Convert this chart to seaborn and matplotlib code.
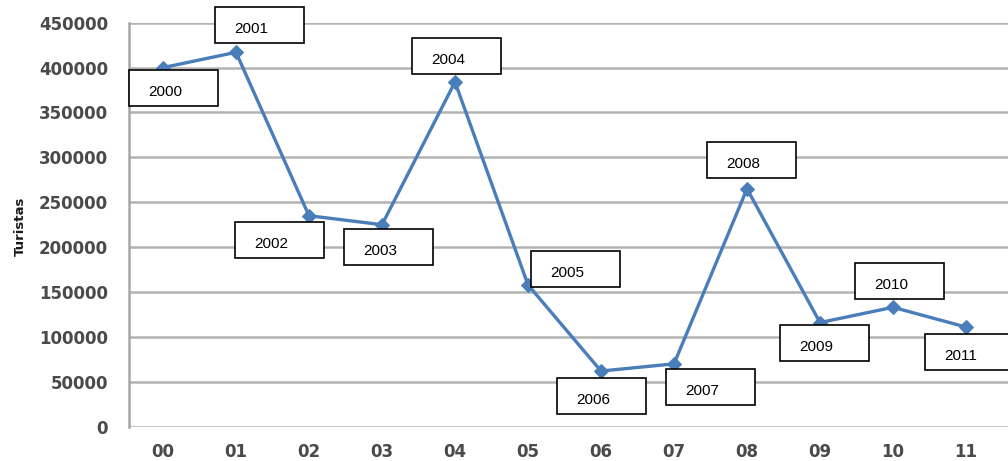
import matplotlib
matplotlib.use("Agg")
import matplotlib.pyplot as plt
import matplotlib.transforms as mtransforms
from matplotlib.patches import Rectangle
import seaborn as sns
import numpy as np

# 数据
anos = ["00", "01", "02", "03", "04", "05", "06", "07", "08", "09", "10", "11"]
etiquetas = ["2000", "2001", "2002", "2003", "2004", "2005",
             "2006", "2007", "2008", "2009", "2010", "2011"]
turistas = [400000, 417000, 235000, 225000, 384000, 158000,
            62000, 70000, 265000, 116000, 133000, 111000]
# 标签框相对于点的像素偏移 (左, 上; 图像坐标向下为正)
desloc = [(-34, 2), (-21, -45), (-74, 6), (-38, 4), (-43, -44), (3, -34),
          (-44, 7), (-8, 5), (-40, -47), (-40, 2), (-38, -44), (-41, 7)]

sns.set_style("white")
plt.rcParams['font.family'] = ['DejaVu Sans']

fig = plt.figure(figsize=(10.08, 4.61), dpi=100)
ax = fig.add_axes([129 / 1008, 1 - 426.7 / 461, 879 / 1008, 404 / 461])

x = np.arange(len(anos))
sns.lineplot(x=x, y=turistas, ax=ax, color='#4a7ebb', linewidth=2.4,
             marker='D', markersize=7, markeredgecolor='#4a7ebb', zorder=3)

ax.set_xlim(-34 / 73, 845 / 73)
ax.set_ylim(0, 450000)
ax.set_yticks(np.arange(0, 450001, 50000))
ax.set_xticks(x)
ax.set_xticklabels(anos)
ax.yaxis.grid(True, color='#b3b3b3', linewidth=1.8)
ax.set_axisbelow(True)

for s in ['top', 'right', 'bottom']:
    ax.spines[s].set_visible(False)
ax.spines['left'].set_color('#a6a6a6')
ax.spines['left'].set_linewidth(1.8)

ax.tick_params(axis='y', length=6.5, width=1.8, color='#b3b3b3', pad=8.5,
               labelsize=12, labelcolor='#4a4a4a')
ax.tick_params(axis='x', length=0, pad=12, labelsize=12, labelcolor='#4a4a4a')
for lab in ax.get_xticklabels() + ax.get_yticklabels():
    lab.set_fontweight('bold')

fig.text(20 / 1008, 1 - 226 / 461, 'Turistas', rotation=90, fontsize=9.5,
         fontweight='bold', ha='center', va='center', color='#1a1a1a')

# 数据标签框
ident = mtransforms.IdentityTransform()
for i, (lab, v) in enumerate(zip(etiquetas, turistas)):
    px, py = ax.transData.transform((x[i], v))
    dl, dt = desloc[i]
    top = py - dt
    ax.add_patch(Rectangle((px + dl, top - 36), 89, 36, transform=ident,
                           facecolor='white', edgecolor='black', linewidth=1.2,
                           clip_on=False, zorder=5))
    ax.text(px + dl + 19, top - 22, lab, transform=ident, fontsize=11,
            family='Liberation Sans', ha='left', va='center', color='black',
            zorder=6, clip_on=False)

fig.savefig('out.png', dpi=100)
